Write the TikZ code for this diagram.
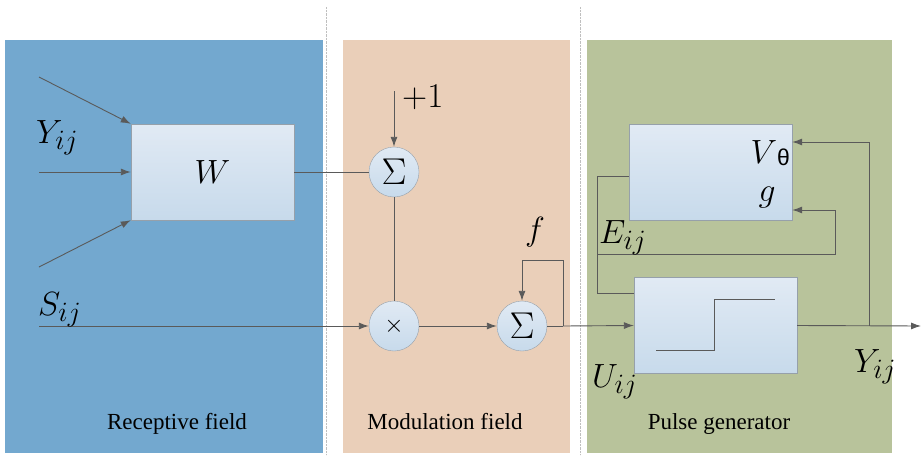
\documentclass[tikz,border=0pt]{standalone}
\usepackage{fontspec}
\setmainfont{Liberation Serif}
\newfontfamily\thetafont{Liberation Sans}
\usetikzlibrary{arrows.meta,positioning}
\definecolor{recblue}{RGB}{115,168,207}
\definecolor{modpeach}{RGB}{234,207,185}
\definecolor{pulsegreen}{RGB}{184,195,155}
\definecolor{boxtop}{RGB}{225,234,244}
\definecolor{boxbot}{RGB}{199,218,235}
\definecolor{wirecol}{RGB}{90,90,90}
\definecolor{edgecol}{RGB}{150,160,170}
\newcommand\biglbl[1]{\scalebox{1.35}{#1}}
\newcommand\sumsym{\scalebox{1.5}{$\Sigma$}}
\newcommand\thetasub{\raisebox{-2pt}{\fontsize{17}{17}\selectfont\thetafont θ}}
\begin{document}
\begin{tikzpicture}[x=1pt,y=-1pt,
    blockbox/.style={draw=edgecol,top color=boxtop,bottom color=boxbot,minimum width=163pt,minimum height=96pt,inner sep=0pt},
    opcirc/.style={circle,draw=edgecol,top color=boxtop,bottom color=boxbot,minimum size=50pt,inner sep=0pt},
    wire/.style={draw=wirecol,line width=0.9pt},
    arr/.style={wire,-{Latex[length=10pt,width=7pt]}},
    lbl/.style={font=\fontsize{24.88}{26}\selectfont,inner sep=0pt},
    fieldlbl/.style={font=\fontsize{23}{23}\selectfont,inner sep=0pt}]
    \useasboundingbox (0,0) rectangle (923,455);
    \fill [white] (0,0) rectangle (923,455);
    \fill [recblue] (5,40) rectangle (323,453);
    \fill [modpeach] (343,40) rectangle (570,453);
    \fill [pulsegreen] (587,40) rectangle (892,453);
    \draw [gray!50,densely dotted] (326,7) -- (326,455);
    \draw [gray!50,densely dotted] (580,7) -- (580,455);
    \node [blockbox,lbl] (wbox) at (212.5,172) {\biglbl{$W$}};
    \node [opcirc,lbl] (sumw) at (394,172) {\sumsym};
    \node [opcirc,lbl] (mul) at (394,326) {$\times$};
    \node [opcirc,lbl] (sumf) at (522,326) {\sumsym};
    \node [blockbox] (thresh) at (710.5,172.5) {};
    \node [blockbox] (pulse) at (715.5,325.5) {};
    \draw [wire] (656,350) -- (714,350) -- (714,299) -- (775,299);
    \coordinate (in1) at (39,77);
    \coordinate (in2) at (39,172);
    \coordinate (in3) at (39,267);
    \coordinate (sin) at (39,326);
    \coordinate (plus) at (394,91);
    \coordinate (fb) at (563,326);
    \coordinate (ytap) at (869,326);
    \coordinate (yout) at (921,326);
    \coordinate (etop) at (597,176);
    \coordinate (ebend) at (597,254);
    \coordinate (ebot) at (597,293);
    \coordinate (gtap) at (835,254);
    \draw [arr] (in1) -- (wbox.north west);
    \draw [arr] (in2) -- (wbox.west);
    \draw [arr] (in3) -- (wbox.south west);
    \draw [wire] (wbox.east) -- (sumw.west);
    \draw [arr] (plus) -- (sumw.north);
    \draw [wire] (sumw.south) -- (mul.north);
    \draw [arr] (sin) -- (mul.west);
    \draw [arr] (mul.east) -- (sumf.west);
    \draw [wire] (sumf.east) -- (fb);
    \draw [arr] (fb) -- ++(0,-66) -| (sumf.north);
    \draw [arr] (fb) -- (pulse.west);
    \draw [arr] (pulse.east) -- (yout);
    \draw [arr] (ytap) |- ([yshift=30.5pt]thresh.east);
    \draw [wire] ([yshift=-3.5pt]thresh.west) -- (etop) -- (ebot) -- (pulse.west |- ebot);
    \draw [arr] (ebend) -- (gtap) |- ([yshift=-37.5pt]thresh.east);
    \node [lbl,anchor=base west] (yin) at (36,143) {\biglbl{$Y_{ij}$}};
    \node [lbl,anchor=base west] (slbl) at (38,315) {\biglbl{$S_{ij}$}};
    \node [lbl,anchor=base west] (plbl) at (402,107) {\scalebox{1.4}{$+1$}};
    \node [lbl,anchor=base] (flbl) at (535,240) {\biglbl{$f$}};
    \node [lbl,anchor=base east] (vlbl) at (790,163) {\biglbl{$V$\thetasub}};
    \node [lbl,anchor=base] (glbl) at (767,201) {\biglbl{$g$}};
    \node [lbl,anchor=base west] (elbl) at (599,243) {\biglbl{$E_{ij}$}};
    \node [lbl,anchor=base west] (ulbl) at (592,387) {\biglbl{$U_{ij}$}};
    \node [lbl,anchor=base west] (ylbl) at (854,372) {\biglbl{$Y_{ij}$}};
    \node [fieldlbl,anchor=base] (rlbl) at (177,429) {Receptive field};
    \node [fieldlbl,anchor=base] (mlbl) at (445,429) {Modulation field};
    \node [fieldlbl,anchor=base] (glbl2) at (719,429) {Pulse generator};
\end{tikzpicture}
\end{document}
